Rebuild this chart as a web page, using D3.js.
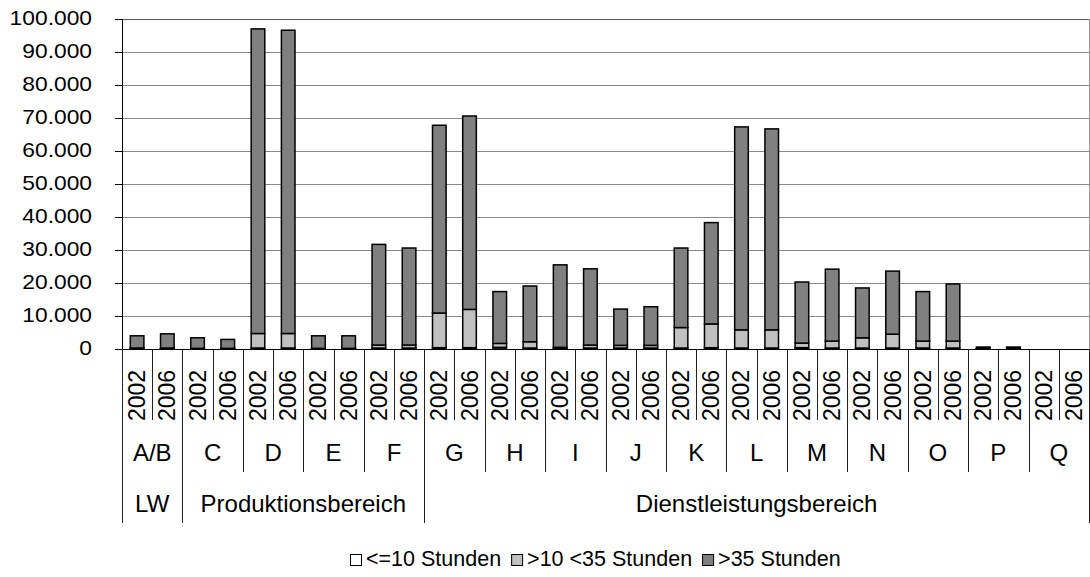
<!DOCTYPE html>
<html>
<head>
<meta charset="utf-8">
<script src="https://cdn.jsdelivr.net/npm/d3@7"></script>
<style>
  html, body { margin: 0; padding: 0; background: #fff; }
  svg { display: block; font-family: "Liberation Sans", Arial, sans-serif; }
</style>
</head>
<body>
<svg id="chart" width="1090" height="577"></svg>
<script>
// ---- data ----
const sections = ["LW", "Produktionsbereich", "Dienstleistungsbereich"];
const sectionGroups = [["A/B"], ["C", "D", "E", "F"], ["G", "H", "I", "J", "K", "L", "M", "N", "O", "P", "Q"]];
const years = ["2002", "2006"];
const seriesNames = ["<=10 Stunden", ">10 <35 Stunden", ">35 Stunden"];
// values per bar in order A/B 2002, A/B 2006, C 2002, ...
const le10   = [100, 100, 50, 50, 300, 300, 50, 50, 300, 300, 400, 400, 500, 300, 200, 300, 300, 300, 300, 400, 300, 300, 400, 300, 300, 300, 300, 300, 100, 100, 0, 0];
const mid    = [200, 200, 150, 150, 4400, 4400, 150, 150, 900, 900, 10500, 11600, 1200, 1900, 300, 900, 800, 800, 6200, 7200, 5500, 5500, 1400, 2100, 3100, 4200, 2100, 2100, 100, 100, 0, 0];
const high   = [3700, 4300, 3200, 2700, 92300, 91900, 3800, 3800, 30500, 29400, 56900, 58600, 15700, 16900, 25000, 23100, 11000, 11700, 24100, 30700, 61500, 60900, 18500, 21800, 15100, 19100, 15000, 17300, 400, 400, 0, 0];
const yTicks = [0, 10000, 20000, 30000, 40000, 50000, 60000, 70000, 80000, 90000, 100000];
const colors = ["#ffffff", "#c0c0c0", "#808080"];

(function () {
// ---- build ----
const groups = sectionGroups.flat();
const bars = [];
groups.forEach(g => years.forEach(yr => bars.push({ key: g + "|" + yr, group: g, year: yr })));
bars.forEach((b, i) => { b.le10 = le10[i]; b.mid = mid[i]; b.high = high[i]; });

const svg = d3.select("#chart");
const pLeft = 122, pRight = 1089, pTop = 19, pBottom = 349;

const x = d3.scaleBand().domain(bars.map(b => b.key)).range([pLeft, pRight]).paddingInner(0).paddingOuter(0);
const y = d3.scaleLinear().domain([0, 100000]).range([pBottom, pTop]);
const bw = x.bandwidth();
const barW = bw * 0.45;

const deLocale = d3.formatLocale({ decimal: ",", thousands: ".", grouping: [3], currency: ["", " €"] });
const fmt = deLocale.format(",d");

// gridlines
svg.append("g").selectAll("line").data(yTicks.filter(t => t > 0)).join("line")
  .attr("x1", pLeft).attr("x2", pRight)
  .attr("y1", d => Math.round(y(d)) + 0.5).attr("y2", d => Math.round(y(d)) + 0.5)
  .attr("stroke", d => d === 100000 ? "#555" : "#8a8a8a").attr("stroke-width", 1);

// right border
svg.append("line").attr("x1", pRight + 0.5).attr("x2", pRight + 0.5).attr("y1", pTop).attr("y2", pBottom)
  .attr("stroke", "#999");

// y axis
const yAxis = svg.append("g");
yAxis.append("line").attr("x1", pLeft + 0.5).attr("x2", pLeft + 0.5).attr("y1", pTop).attr("y2", pBottom)
  .attr("stroke", "#000");
yAxis.selectAll("line.tick").data(yTicks).join("line").attr("class", "tick")
  .attr("x1", pLeft - 7).attr("x2", pLeft)
  .attr("y1", d => Math.round(y(d)) + 0.5).attr("y2", d => Math.round(y(d)) + 0.5)
  .attr("stroke", "#000");
yAxis.selectAll("text").data(yTicks).join("text")
  .attr("transform", d => `translate(92,${y(d) + 5.5}) scale(1.14,1)`)
  .attr("text-anchor", "end").attr("font-size", 20).attr("fill", "#000")
  .text(d => fmt(d));

// stacked bars
const stack = d3.stack().keys(["le10", "mid", "high"]);
const stacked = stack(bars);
const barG = svg.append("g");
stacked.forEach((layer, li) => {
  barG.append("g").selectAll("rect").data(layer).join("rect")
    .attr("x", d => x(d.data.key) + (bw - barW) / 2)
    .attr("width", barW)
    .attr("y", d => y(d[1]))
    .attr("height", d => Math.max(0, y(d[0]) - y(d[1])))
    .attr("fill", colors[li])
    .attr("stroke", "#000").attr("stroke-width", 1.5)
    .attr("display", d => (d[1] - d[0]) > 0 ? null : "none");
});

// x axis line
svg.append("line").attr("x1", pLeft).attr("x2", pRight + 1).attr("y1", pBottom + 0.5).attr("y2", pBottom + 0.5)
  .attr("stroke", "#000");

// category separator lines
const sectionBounds = [0];
sectionGroups.forEach(sg => sectionBounds.push(sectionBounds[sectionBounds.length - 1] + sg.length * years.length));
const boundaries = d3.range(bars.length + 1);
const bx = i => Math.round(i < bars.length ? x(bars[i].key) : pRight) + 0.5;
svg.append("g").selectAll("line").data(boundaries).join("line")
  .attr("x1", bx).attr("x2", bx)
  .attr("y1", pBottom)
  .attr("y2", i => sectionBounds.includes(i) ? 523 : (i % 2 === 0 ? 472 : 420))
  .attr("stroke", "#222").attr("stroke-width", 1);

// year labels
svg.append("g").selectAll("text").data(bars).join("text")
  .attr("transform", d => `translate(${x(d.key) + bw / 2 + 8},421) rotate(-90)`)
  .attr("text-anchor", "start").attr("font-size", 23).attr("fill", "#000")
  .text(d => d.year);

// group labels
svg.append("g").selectAll("text").data(groups).join("text")
  .attr("x", g => x(g + "|" + years[0]) + bw)
  .attr("y", 461)
  .attr("text-anchor", "middle").attr("font-size", 24).attr("fill", "#000")
  .text(g => g);

// section labels
svg.append("g").selectAll("text").data(sections).join("text")
  .attr("x", (s, i) => {
    const a = sectionBounds[i], b = sectionBounds[i + 1];
    const xa = x(bars[a].key), xb = b < bars.length ? x(bars[b].key) : pRight;
    return (xa + xb) / 2;
  })
  .attr("y", 512)
  .attr("text-anchor", "middle").attr("font-size", 24).attr("fill", "#000")
  .text(s => s);

// legend
const legend = svg.append("g");
let lx = 0;
seriesNames.forEach((name, i) => {
  const g = legend.append("g");
  g.append("rect").attr("x", lx + 0.5).attr("y", -11.5).attr("width", 11).attr("height", 11)
    .attr("fill", colors[i]).attr("stroke", "#000").attr("stroke-width", 1);
  const t = g.append("text").attr("x", lx + 16).attr("y", 0).attr("font-size", 21.5).attr("fill", "#000").text(name);
  const w = t.node().getComputedTextLength();
  lx += 16 + w + 10;
});
const totalW = lx - 10;
legend.attr("transform", `translate(${Math.round(595.5 - totalW / 2)},566)`);
})();
</script>
</body>
</html>
